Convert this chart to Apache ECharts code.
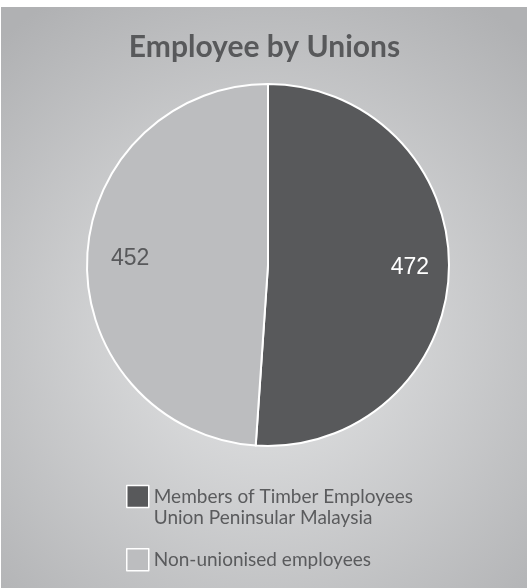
<!DOCTYPE html>
<html>
<head>
<meta charset="utf-8">
<script src="https://cdn.jsdelivr.net/npm/echarts@6/dist/echarts.min.js"></script>
<style>
  html, body { margin: 0; padding: 0; background: #fff; }
  #chart { width: 529px; height: 588px; }
</style>
</head>
<body>
<div id="chart"></div>
<script>
// data
var categories = ['Members of Timber Employees\nUnion Peninsular Malaysia', 'Non-unionised employees'];
var values = [472, 452];
var sliceColors = ['#58595b', '#bcbdbf'];
var labelColors = ['#ffffff', '#58595b'];

var myChart = echarts.init(document.getElementById('chart'));

var pieData = [];
var labelData = [];
for (var i = 0; i < categories.length; i++) {
    pieData.push({
        name: categories[i],
        value: values[i],
        itemStyle: { color: sliceColors[i] }
    });
    labelData.push({
        name: categories[i],
        value: values[i],
        label: { color: labelColors[i] }
    });
}

myChart.setOption({
    animation: false,
    graphic: [{
        type: 'rect',
        shape: { x: 1, y: 7, width: 526, height: 581 },
        silent: true,
        z: -10,
        style: {
            fill: {
                type: 'radial', x: 0.5, y: 0.56, r: 0.75,
                colorStops: [
                    { offset: 0, color: '#e6e7e8' },
                    { offset: 1, color: '#b0b1b3' }
                ]
            }
        }
    }],
    title: {
        text: 'Employee by Unions',
        left: 'center',
        top: 27,
        textStyle: {
            fontFamily: 'Lato',
            fontWeight: 'bold',
            fontSize: 30,
            color: '#58595b'
        }
    },
    legend: {
        orient: 'vertical',
        left: 121,
        top: 460,
        itemWidth: 22,
        itemHeight: 22,
        itemGap: 20,
        icon: 'rect',
        data: categories,
        // legend text is centred on the box, so an empty first line keeps
        // the first real line of a two-line name level with the box
        formatter: function (name) {
            return name.indexOf('\n') >= 0 ? '\n' + name : name;
        },
        itemStyle: { borderColor: '#ffffff', borderWidth: 1.5 },
        textStyle: {
            fontFamily: 'Lato',
            fontSize: 19,
            lineHeight: 21,
            color: '#5a5b5d'
        }
    },
    series: [
        {
            name: 'Employee by Unions',
            type: 'pie',
            center: [268, 265],
            radius: [0, 181],
            startAngle: 90,
            clockwise: true,
            silent: true,
            label: { show: false },
            labelLine: { show: false },
            itemStyle: { borderColor: '#ffffff', borderWidth: 2 },
            emphasis: { disabled: true },
            data: pieData
        },
        {
            // transparent copy, only to place the value labels further out
            name: 'labels',
            type: 'pie',
            center: [270, 263],
            radius: [0, 274],
            startAngle: 90,
            clockwise: true,
            silent: true,
            legendHoverLink: false,
            itemStyle: { color: 'rgba(0,0,0,0)' },
            label: {
                show: true,
                position: 'inside',
                formatter: '{c}',
                fontFamily: 'Liberation Sans',
                fontSize: 23
            },
            labelLine: { show: false },
            emphasis: { disabled: true },
            data: labelData
        }
    ]
});
</script>
</body>
</html>
